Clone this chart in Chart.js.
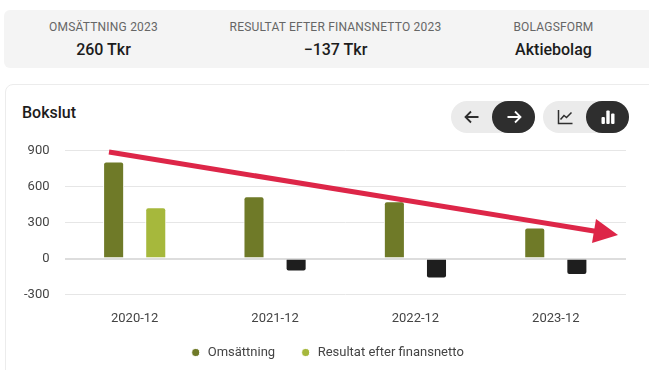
<!DOCTYPE html>
<html>
<head>
<meta charset="utf-8">
<script src="https://cdn.jsdelivr.net/npm/chart.js@4"></script>
<style>
  html, body { margin: 0; padding: 0; background: #fff; overflow: hidden; }
  body { width: 649px; height: 370px; position: relative; font-family: Roboto, sans-serif; color: #1c1c1c; }
  .band { position: absolute; left: 4px; top: 10px; width: 660px; height: 58px; background: #f4f4f4; border-radius: 6px; }
  .stat { position: absolute; top: 19px; width: 260px; margin-left: -130px; text-align: center; }
  .stat .lbl { font-size: 12px; line-height: 16px; color: #666; letter-spacing: 0.2px; }
  .stat .val { font-size: 16px; line-height: 20px; font-weight: 500; margin-top: 5px; }
  .card { position: absolute; left: 5px; top: 84px; width: 680px; height: 320px; border: 1px solid #ececec; border-radius: 8px; box-sizing: border-box; }
  .title { position: absolute; left: 22px; top: 103px; font-size: 16px; line-height: 20px; font-weight: 500; }
  .pill { position: absolute; top: 101px; height: 32px; background: #ebebeb; border-radius: 16px; }
  .on { position: absolute; top: 0; right: 0; width: 43px; height: 32px; background: #2e2e2e; border-radius: 16px; }
  .pill svg { position: absolute; top: 8px; width: 16px; height: 16px; }
  #chartBox { position: absolute; left: 5px; top: 128px; width: 644px; height: 242px; }
  #arrow { position: absolute; left: 0; top: 0; pointer-events: none; }
</style>
</head>
<body>
<div class="band"></div>
<div class="stat" style="left:103.5px"><div class="lbl">OMSÄTTNING 2023</div><div class="val">260 Tkr</div></div>
<div class="stat" style="left:335.5px"><div class="lbl">RESULTAT EFTER FINANSNETTO 2023</div><div class="val">−137 Tkr</div></div>
<div class="stat" style="left:553.5px"><div class="lbl">BOLAGSFORM</div><div class="val">Aktiebolag</div></div>

<div class="card"></div>
<div class="title">Bokslut</div>

<div class="pill" style="left:451px;width:84px">
  <svg style="left:13px" viewBox="0 0 16 16" fill="none" stroke="#2e2e2e" stroke-width="1.8"><path d="M14.5 8H1.5M7 2.5L1.5 8L7 13.5"/></svg>
  <div class="on"><svg style="left:14px" viewBox="0 0 16 16" fill="none" stroke="#fff" stroke-width="1.8"><path d="M1.5 8H14.5M9 2.5L14.5 8L9 13.5"/></svg></div>
</div>
<div class="pill" style="left:543px;width:86px">
  <svg style="left:14px" viewBox="0 0 16 16" fill="none" stroke="#2e2e2e" stroke-width="1.5"><path d="M1.5 1V14.5H15.5M3.5 10.5L7 6.5L9.5 8.5L14.5 3.5"/></svg>
  <div class="on"><svg style="left:14px" viewBox="0 0 16 16" fill="#fff"><rect x="1.5" y="8" width="3.4" height="7" rx="1"/><rect x="6.3" y="1.5" width="3.4" height="13.5" rx="1"/><rect x="11.1" y="4.5" width="3.4" height="10.5" rx="1"/></svg></div>
</div>

<div id="chartBox"><canvas id="chart"></canvas></div>

<svg id="arrow" width="649" height="370">
  <line x1="109" y1="152" x2="600" y2="232" stroke="#dd2648" stroke-width="5"/>
  <polygon points="596,219 618,235 592,243" fill="#dd2648"/>
</svg>

<script>
const categories = ["2020-12", "2021-12", "2022-12", "2023-12"];
const omsattning = [810, 520, 478, 260];
const resultat = [428, -108, -166, -137];
const yTicks = [900, 600, 300, 0, -300];

const darkGreen = "#6f7a28";
const lightGreen = "#a6b83c";
const negativeColor = "#1e1e1e";
const textColor = "#444444";

const barStyle = {
    borderColor: "#ffffff",
    borderWidth: 1,
    borderSkipped: "start",
    borderRadius: 3,
    categoryPercentage: 0.6,
    barPercentage: 0.5
};

// legend padding also sets the gap between items, so pull it back up afterwards
const legendShift = {
    id: "legendShift",
    afterLayout(chart) {
        chart.legend.top -= 6.5;
    }
};

new Chart(document.getElementById("chart"), {
    type: "bar",
    plugins: [legendShift],
    data: {
        labels: categories,
        datasets: [
            { label: "Omsättning", data: omsattning, backgroundColor: darkGreen, ...barStyle },
            {
                label: "Resultat efter finansnetto",
                data: resultat,
                backgroundColor: (c) => (c.raw < 0 ? negativeColor : lightGreen),
                ...barStyle
            }
        ]
    },
    options: {
        responsive: true,
        maintainAspectRatio: false,
        animation: false,
        layout: { padding: { bottom: -5.5 } },
        scales: {
            x: {
                grid: { display: false },
                border: { display: false },
                afterFit: (axis) => { axis.height = 33; },
                ticks: { color: textColor, font: { family: "Roboto", size: 13 }, padding: 8 }
            },
            y: {
                min: -300,
                max: 900,
                afterBuildTicks: (axis) => { axis.ticks = yTicks.map((v) => ({ value: v })); },
                afterFit: (axis) => { axis.width = 59.5; },
                border: { display: false },
                grid: {
                    drawTicks: false,
                    color: (c) => (c.tick.value === 0 ? "#dddddd" : "#e6e6e6"),
                    lineWidth: (c) => (c.tick.value === 0 ? 2 : 1)
                },
                ticks: { color: textColor, font: { family: "Roboto", size: 13 }, padding: 15 }
            },
            spacer: {
                position: "right",
                display: true,
                grid: { display: false },
                border: { display: false },
                ticks: { display: false },
                afterFit: (axis) => { axis.width = 23; }
            }
        },
        plugins: {
            tooltip: { enabled: false },
            legend: {
                position: "bottom",
                labels: {
                    usePointStyle: true,
                    pointStyle: "circle",
                    boxWidth: 11,
                    boxHeight: 5.66,
                    padding: 25,
                    color: textColor,
                    font: { family: "Roboto", size: 13 }
                }
            }
        }
    }
});
</script>
</body>
</html>
